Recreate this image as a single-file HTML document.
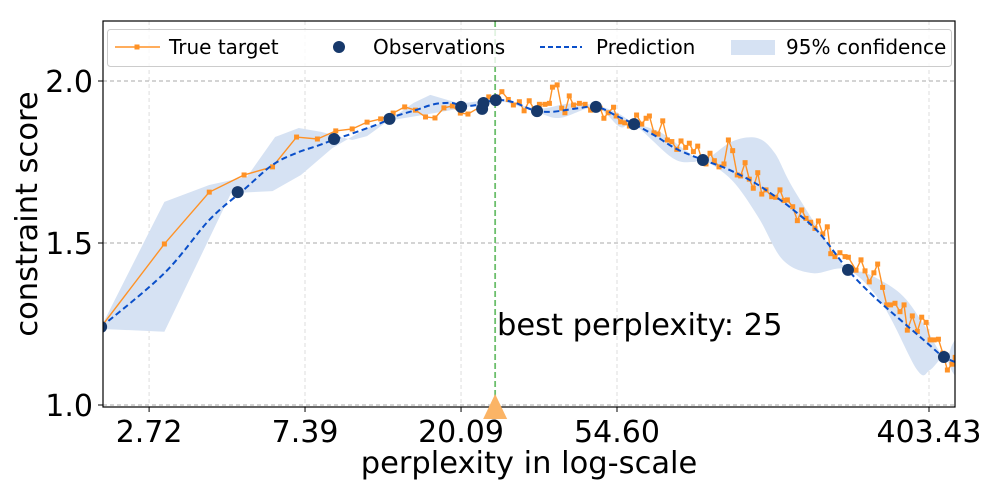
<!DOCTYPE html>
<html><head><meta charset="utf-8"><style>
body{margin:0;background:#fff;}
svg text{font-family:"DejaVu Sans","Liberation Sans",sans-serif;}
</style></head><body>
<svg id="chart" width="991" height="489" xmlns="http://www.w3.org/2000/svg">
<defs><clipPath id="clip"><rect x="103" y="21" width="852" height="386"/></clipPath></defs>
<g id="grid"></g>
<g id="plot" clip-path="url(#clip)"></g>
<rect x="103" y="21" width="852" height="386" fill="none" stroke="#000" stroke-width="1.2"/>
<g id="ticks"></g>
<text x="529" y="473" font-size="30.5" text-anchor="middle">perplexity in log-scale</text>
<text transform="translate(37,214) rotate(-90)" font-size="30.5" text-anchor="middle">constraint score</text>
<text x="497" y="335" font-size="30.5">best perplexity: 25</text>
<g>
<rect x="107.5" y="29.5" width="844" height="37" rx="3" fill="#fff" fill-opacity="0.8" stroke="#ccc"/>
<g>
<line x1="115" y1="47" x2="160" y2="47" stroke="#ff9226" stroke-width="1.5"/><rect x="134.5" y="44.5" width="5" height="5" fill="#ff9226"/>
<text x="169" y="54" font-size="20">True target</text></g>
<g>
<circle cx="339" cy="47" r="6" fill="#17396b"/><text x="373" y="54" font-size="20">Observations</text></g>
<g>
<line x1="540" y1="47" x2="582" y2="47" stroke="#0a4fc9" stroke-width="2" stroke-dasharray="5,3"/><text x="596" y="54" font-size="20">Prediction</text></g>
<g>
<rect x="731" y="40" width="44" height="15" fill="#d6e2f3"/><text x="786" y="54" font-size="20">95% confidence</text></g>
</g>
</svg>
<script>
const xTicks=[2.72,7.39,20.09,54.60,403.43];
const xTickLabels=["2.72","7.39","20.09","54.60","403.43"];
const yTicks=[1.0,1.5,2.0];
const yTickLabels=["1.0","1.5","2.0"];
const bestPerplexity=25;
const truthP=[2,3,4,5,6,7,8,9,10,11,12,13,14,15,16,17,18,19,20,21,22.7,24,25.1,26.1,27.2,28.1,29.2,30.1,31.1,32.1,33.2,34.4,35.4,36.1,37.2,38.3,39.1,40.2,41.3,42.9,44.5,46.1,49.0,50.2,51.6,53.4,54.3,55.9,57.4,59.1,60.4,61.9,64.0,65.8,67.2,69.2,71.0,73.2,75.4,77.6,80.1,82.3,84.8,86.8,89.1,91.6,94.0,96.6,99.1,101.9,105.0,108.4,111.5,114.6,118.0,120.6,124.1,127.5,130.8,134.6,138.1,141.9,147.2,151.0,155.2,159.3,162.7,168.4,173.5,178.4,183.4,188.9,194.2,198.5,204.2,210.2,214.9,220.8,227.9,235.6,240.6,252.7,260.9,267.7,275.1,283.4,290.3,299.7,307.6,315.4,324.4,335.0,343.8,351.1,362.5,374.3,385.0,396.0,406.2,416.9,428.6,440.8,453.9,467.3,477.2];
const truthScore=[1.241,1.497,1.657,1.710,1.735,1.827,1.821,1.846,1.852,1.873,1.883,1.901,1.920,1.910,1.889,1.886,1.917,1.923,1.901,1.898,1.920,1.951,1.944,1.967,1.943,1.926,1.936,1.908,1.939,1.913,1.928,1.928,1.931,1.981,1.988,1.916,1.902,1.954,1.926,1.931,1.928,1.910,1.916,1.885,1.902,1.919,1.892,1.874,1.871,1.861,1.869,1.895,1.867,1.885,1.892,1.840,1.836,1.877,1.818,1.813,1.789,1.815,1.795,1.808,1.782,1.799,1.758,1.744,1.777,1.754,1.735,1.744,1.818,1.785,1.710,1.707,1.748,1.697,1.669,1.717,1.651,1.664,1.643,1.641,1.664,1.631,1.633,1.612,1.569,1.602,1.576,1.564,1.545,1.568,1.528,1.550,1.467,1.458,1.470,1.458,1.456,1.416,1.448,1.414,1.380,1.408,1.435,1.363,1.309,1.309,1.314,1.288,1.309,1.231,1.275,1.227,1.271,1.255,1.201,1.201,1.203,1.160,1.108,1.126,1.147];
const obsP=[2.0,4.8,8.9,12.7,20.1,23.0,23.2,25.1,32.7,47.7,60.9,94.7,240,444];
const obsScore=[1.241,1.657,1.821,1.883,1.920,1.914,1.932,1.941,1.907,1.920,1.867,1.756,1.417,1.148];
const predP=[2,3,4,5,6,7,8,9,10,12,13,15,17,19,20,22,25,28,32,36,42,48,55,61,70,80,95,110,130,150,170,200,240,280,330,400,444,500];
const predScore=[1.241,1.407,1.571,1.665,1.741,1.778,1.800,1.821,1.838,1.870,1.889,1.910,1.929,1.932,1.924,1.925,1.941,1.935,1.910,1.905,1.915,1.920,1.890,1.867,1.830,1.790,1.756,1.730,1.690,1.645,1.600,1.530,1.417,1.340,1.270,1.190,1.148,1.125];
const bandUpperP=[2,3,4,5.1,6.1,7.1,8.2,10,11,12.7,14.8,16.5,18.5,20,25,32.7,40,47.7,55,61,71.8,84.6,95,114,134,150,168,214,240,270,335,388,444,470,500];
const bandUpper=[1.241,1.627,1.679,1.705,1.827,1.855,1.843,1.818,1.830,1.880,1.932,1.957,1.941,1.930,1.945,1.915,1.930,1.925,1.900,1.870,1.843,1.787,1.756,1.813,1.824,1.778,1.673,1.488,1.417,1.407,1.345,1.253,1.148,1.190,1.240];
const bandLowerP=[2,3,4.6,6,7.2,8.8,11,12.7,16.9,20,25,32.7,37.9,47.7,55.7,61,78,89,95,114,135,158,191,240,300,374,406,444,470,500];
const bandLower=[1.235,1.226,1.654,1.660,1.710,1.793,1.855,1.878,1.901,1.915,1.940,1.903,1.886,1.918,1.858,1.865,1.762,1.750,1.756,1.694,1.580,1.448,1.407,1.417,1.309,1.108,1.108,1.148,1.100,1.060];

const NS="http://www.w3.org/2000/svg";
function xs(p){return 149+(Math.log(p)-1)*156;}
function ys(v){return 81+(2-v)*324;}
function mk(tag,attrs,parent){const e=document.createElementNS(NS,tag);for(const k in attrs)e.setAttribute(k,attrs[k]);parent.appendChild(e);return e;}
function pathFor(P,V,split){const pts=P.map((p,i)=>[xs(p),ys(V[i]),p]);let d="M"+pts[0][0]+","+pts[0][1];
 for(let i=0;i<pts.length-1;i++){const p0=pts[Math.max(0,i-1)],p1=pts[i],p2=pts[i+1],p3=pts[Math.min(pts.length-1,i+2)];
 if(Math.min(p1[2],p2[2])<split){d+=" L"+p2[0]+","+p2[1];continue;}
 const c1x=p1[0]+(p2[0]-p0[0])/6,c1y=p1[1]+(p2[1]-p0[1])/6,c2x=p2[0]-(p3[0]-p1[0])/6,c2y=p2[1]-(p3[1]-p1[1])/6;
 d+=" C"+c1x+","+c1y+" "+c2x+","+c2y+" "+p2[0]+","+p2[1];}return d;}
const grid=document.getElementById('grid'),plot=document.getElementById('plot'),ticks=document.getElementById('ticks');
xTicks.forEach((t,i)=>{const x=xs(t);
 const g=mk('line',{x1:x,x2:x,y1:21,y2:407,stroke:'#ddd','stroke-dasharray':'4,3'},grid);
 
 
 const tk=mk('line',{x1:x,x2:x,y1:407,y2:412,stroke:'#000'},ticks);
 
 
 const tx=mk('text',{x:x,y:442,'font-size':30,'text-anchor':'middle'},ticks);tx.textContent=xTickLabels[i];
 
 });
yTicks.forEach((t,i)=>{const y=ys(t);
 const g=mk('line',{x1:103,x2:955,y1:y,y2:y,stroke:'#aaa','stroke-dasharray':'4,3'},grid);
 
 
 const tk=mk('line',{x1:98,x2:103,y1:y,y2:y,stroke:'#000'},ticks);
 
 
 const tx=mk('text',{x:93,y:y+11,'font-size':30,'text-anchor':'end'},ticks);tx.textContent=yTickLabels[i];
 
 });
const up=pathFor(bandUpperP,bandUpper,22);
const lowP=bandLowerP.slice().reverse(),lowV=bandLower.slice().reverse();
const lo=pathFor(lowP,lowV,22).replace(/^M/,' L');
const band=mk('path',{d:up+lo+' Z',fill:'#d6e2f3'},plot);


const bx=xs(bestPerplexity);
const bl=mk('line',{x1:bx,x2:bx,y1:21,y2:407,stroke:'#6cbf6c','stroke-width':1.8,'stroke-dasharray':'6,3'},plot);


const tl=mk('polyline',{points:truthP.map((p,i)=>xs(p)+","+ys(truthScore[i])).join(" "),fill:'none',stroke:'#ff9226','stroke-width':1.4},plot);


truthP.forEach((p,i)=>{const r=mk('rect',{x:xs(p)-2.5,y:ys(truthScore[i])-2.5,width:5,height:5,fill:'#ff9226'},plot);
 
 });
const pl=mk('path',{d:pathFor(predP,predScore,0),fill:'none',stroke:'#0a4fc9','stroke-width':2,'stroke-dasharray':'6,3.5'},plot);


obsP.forEach((p,i)=>{const c=mk('circle',{cx:xs(p),cy:ys(obsScore[i]),r:6,fill:'#17396b'},plot);
 
 });
const tri=mk('polygon',{points:(bx-12)+",419 "+bx+",394 "+(bx+12)+",419",fill:'#fbb466'},document.getElementById('chart'));


</script>
</body></html>
